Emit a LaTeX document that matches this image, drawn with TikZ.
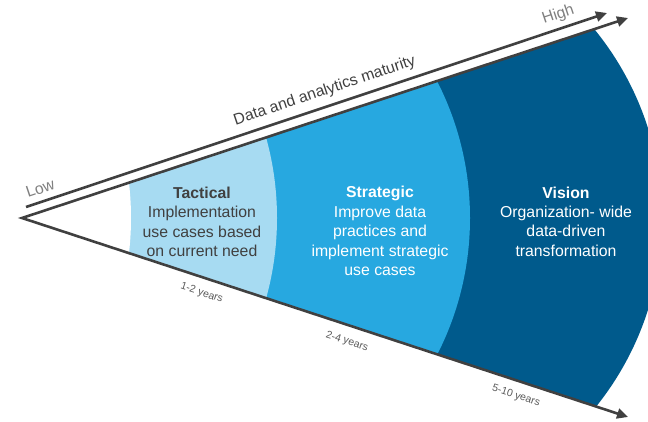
\documentclass[tikz,border=0pt]{standalone}
\usepackage{fontspec}
\setmainfont{Liberation Sans}
\usetikzlibrary{arrows.meta}
\definecolor{lightb}{HTML}{A7DBF2}
\definecolor{midb}{HTML}{27A8E0}
\definecolor{darkb}{HTML}{005A8C}
\definecolor{linec}{HTML}{404040}
\definecolor{graytxt}{HTML}{7F7F7F}
\definecolor{yeartxt}{HTML}{595959}
\tikzset{mytip/.tip={Triangle[length=11pt,width=10pt]}}
\begin{document}
\begin{tikzpicture}[x=1pt,y=-1pt,
  edgeline/.style={draw=linec, line width=2.6pt},
  bodytxt/.style={align=center, inner sep=0pt, font=\fontsize{15.8}{19.4}\selectfont},
  axistxt/.style={inner sep=0pt, font=\fontsize{15.8}{19}\selectfont},
  yeartxt/.style={inner sep=0pt, text=yeartxt, rotate=-18.2, font=\fontsize{10.5}{12}\selectfont}]
\useasboundingbox (0,0) rectangle (648,422);
\coordinate (apex) at (22,218);
\coordinate (uptip) at (628,18);
\coordinate (lowtip) at (628,417);
\coordinate (matstart) at (26,207);
\coordinate (matend) at (607,13);
% bands
\begin{scope}
\clip (apex) -- (700,-5.7) -- (700,440.6) -- cycle;
\fill[darkb] (362,219) circle[radius=300pt];
\fill[midb] (170,218) circle[radius=300pt];
\fill[lightb] (-23,218) circle[radius=300pt];
\fill[white] (-169,218) circle[radius=300pt];
\end{scope}
% wedge edges
\draw[edgeline, mytip-mytip] (uptip) -- (apex) -- (lowtip);
% maturity arrow
\draw[edgeline, -mytip] (matstart) -- (matend);
% texts
\node[bodytxt, text=linec] (tact) at (202,222) {\textbf{Tactical}\\Implementation\\use cases based\\on current need};
\node[bodytxt, text=white] (strat) at (380,231) {\textbf{Strategic}\\Improve data\\practices and\\implement strategic\\use cases};
\node[bodytxt, text=white] (vis) at (566,221.5) {\textbf{Vision}\\Organization- wide\\data-driven\\transformation};
\node[axistxt, text=linec, rotate=18.6, anchor=base] (mat) at (326,95) {Data and analytics maturity};
\node[axistxt, text=graytxt, rotate=18.6, anchor=base west] (low) at (28,198) {Low};
\node[axistxt, text=graytxt, rotate=18.6, anchor=base west] (high) at (544,24) {High};
\node[yeartxt] (y1) at (201.7,293.3) {1-2 years};
\node[yeartxt] (y2) at (347,341.7) {2-4 years};
\node[yeartxt] (y3) at (516,396) {5-10 years};
\end{tikzpicture}
\end{document}
